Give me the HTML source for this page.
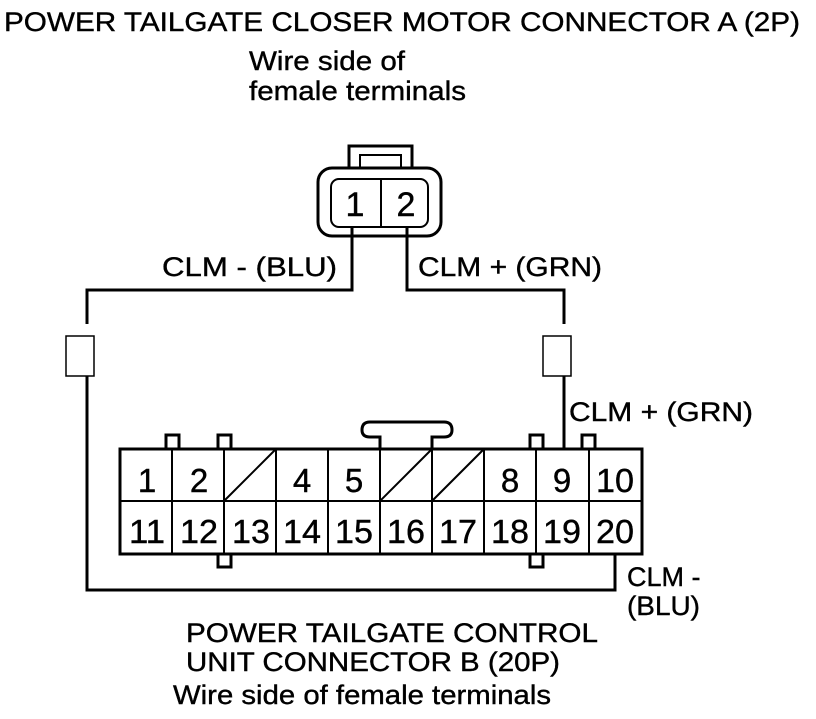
<!DOCTYPE html>
<html><head><style>
body{margin:0;background:#fff}
svg text{font-family:"Liberation Sans",Arial,sans-serif;fill:#000;stroke:#000;stroke-width:0.4}
</style></head><body>
<svg width="816" height="714" viewBox="0 0 816 714" xmlns="http://www.w3.org/2000/svg">
<g font-size="27">
<text x="4" y="31" textLength="796" lengthAdjust="spacingAndGlyphs">POWER TAILGATE CLOSER MOTOR CONNECTOR A (2P)</text>
<text x="249" y="70" textLength="156" lengthAdjust="spacingAndGlyphs">Wire side of</text>
<text x="249" y="100" textLength="217" lengthAdjust="spacingAndGlyphs">female terminals</text>
<text x="162" y="276" textLength="175" lengthAdjust="spacingAndGlyphs">CLM -  (BLU)</text>
<text x="418" y="276" textLength="184" lengthAdjust="spacingAndGlyphs">CLM +  (GRN)</text>
<text x="569" y="421" textLength="184" lengthAdjust="spacingAndGlyphs">CLM +  (GRN)</text>
<text x="627" y="586">CLM -</text>
<text x="627" y="615" textLength="73" lengthAdjust="spacingAndGlyphs">(BLU)</text>
<text x="186" y="642" textLength="412" lengthAdjust="spacingAndGlyphs">POWER TAILGATE CONTROL</text>
<text x="186" y="671" textLength="374" lengthAdjust="spacingAndGlyphs">UNIT CONNECTOR B (20P)</text>
<text x="173" y="704" textLength="378" lengthAdjust="spacingAndGlyphs">Wire side of female terminals</text>
</g>
<!-- small connector -->
<g fill="none" stroke="#000" stroke-width="3">
<rect x="349" y="146" width="63" height="22"/>
<rect x="360" y="155" width="41" height="13" stroke-width="2"/>
<rect x="318" y="168" width="123" height="68" rx="14" fill="#fff"/>
<rect x="331" y="179" width="97" height="48" rx="8" stroke-width="2"/>
<line x1="381" y1="179" x2="381" y2="227" stroke-width="2"/>
</g>
<g font-size="34" text-anchor="middle"><text x="355" y="216">1</text><text x="406" y="216">2</text></g>
<!-- wires -->
<g fill="none" stroke="#000" stroke-width="3">
<polyline points="352,227 352,290 87,290 87,324"/>
<polyline points="407,227 407,290 564,290 564,324"/>
<polyline points="87,376 87,590 615,590 615,554"/>
<polyline points="564,376 564,448"/>
</g>
<g fill="#fff" stroke="#000" stroke-width="1.5">
<rect x="66" y="336" width="28" height="40"/>
<rect x="543" y="336" width="28" height="40"/>
</g>
<!-- big connector -->
<g fill="#fff" stroke="#000" stroke-width="3">
<rect x="166" y="435" width="13" height="14"/>
<rect x="218" y="435" width="13" height="14"/>
<rect x="530" y="435" width="13" height="14"/>
<rect x="582" y="435" width="13" height="14"/>
<rect x="218" y="553" width="13" height="14"/>
<rect x="530" y="553" width="13" height="14"/>
<path d="M380,448 L380,437 L370,437 Q362,437 362,430 Q362,422 370,422 L444,422 Q452,422 452,430 Q452,437 444,437 L432,437 L432,448"/>
<rect x="120" y="449" width="522" height="105"/>
</g>
<g stroke="#000" stroke-width="2">
<line x1="120" y1="501" x2="642" y2="501"/>
<line x1="172" y1="449" x2="172" y2="554"/>
<line x1="224" y1="449" x2="224" y2="554"/>
<line x1="276" y1="449" x2="276" y2="554"/>
<line x1="328" y1="449" x2="328" y2="554"/>
<line x1="380" y1="449" x2="380" y2="554"/>
<line x1="432" y1="449" x2="432" y2="554"/>
<line x1="484" y1="449" x2="484" y2="554"/>
<line x1="536" y1="449" x2="536" y2="554"/>
<line x1="589" y1="449" x2="589" y2="554"/>
<line x1="224" y1="501" x2="276" y2="449"/>
<line x1="380" y1="501" x2="432" y2="449"/>
<line x1="432" y1="501" x2="484" y2="449"/>
</g>
<g font-size="33" text-anchor="middle">
<text x="147" y="492">1</text><text x="199" y="492">2</text>
<text x="302" y="492">4</text><text x="354" y="492">5</text>
<text x="510" y="492">8</text><text x="562" y="492">9</text><text x="615" y="492" textLength="38" lengthAdjust="spacingAndGlyphs">10</text>
<text x="147" y="543" textLength="36" lengthAdjust="spacingAndGlyphs">11</text><text x="199" y="543" textLength="38" lengthAdjust="spacingAndGlyphs">12</text><text x="251" y="543" textLength="38" lengthAdjust="spacingAndGlyphs">13</text>
<text x="302" y="543" textLength="38" lengthAdjust="spacingAndGlyphs">14</text><text x="354" y="543" textLength="38" lengthAdjust="spacingAndGlyphs">15</text><text x="406" y="543" textLength="38" lengthAdjust="spacingAndGlyphs">16</text>
<text x="458" y="543" textLength="38" lengthAdjust="spacingAndGlyphs">17</text><text x="510" y="543" textLength="38" lengthAdjust="spacingAndGlyphs">18</text><text x="562" y="543" textLength="38" lengthAdjust="spacingAndGlyphs">19</text><text x="615" y="543" textLength="38" lengthAdjust="spacingAndGlyphs">20</text>
</g>
</svg>
</body></html>
